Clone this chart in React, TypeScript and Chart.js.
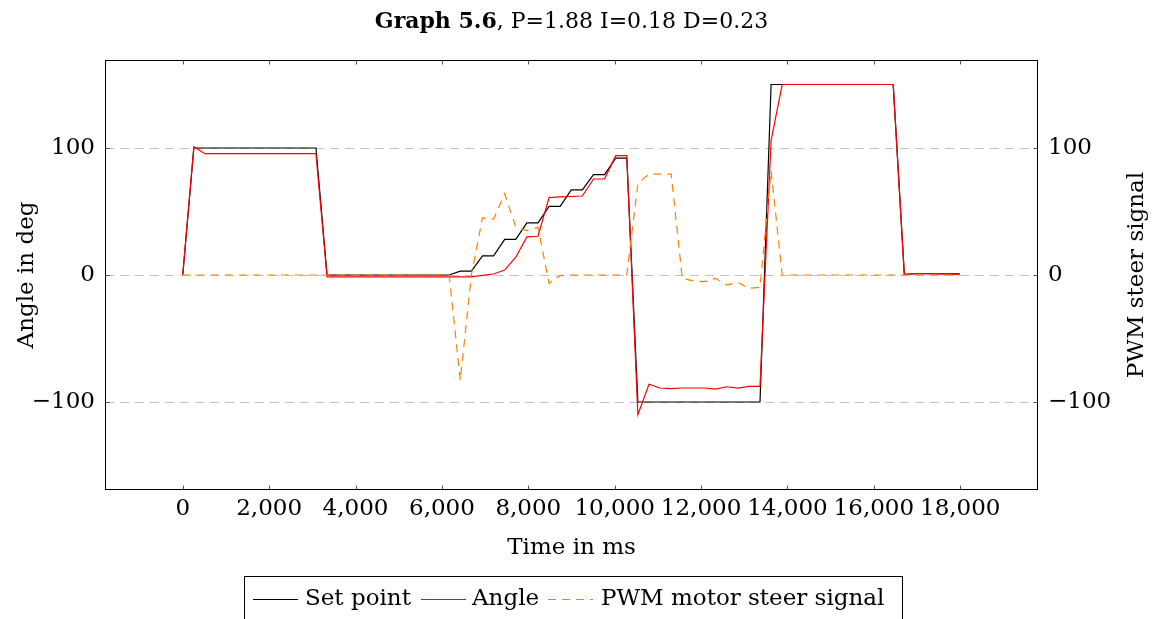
import { useEffect, useRef } from 'react';
import { Chart, registerables } from 'chart.js';

Chart.register(...registerables);

// ---- data ----
const timeMs = [
  0, 257, 514, 771, 1028, 1285, 1542, 1799, 2056, 2313, 2570, 2827, 3084, 3341, 3598, 3855,
  4112, 4369, 4626, 4883, 5140, 5397, 5654, 5911, 6168, 6425, 6682, 6939, 7196, 7453, 7710,
  7967, 8224, 8481, 8738, 8995, 9252, 9509, 9766, 10023, 10280, 10537, 10794, 11051, 11308,
  11565, 11822, 12079, 12336, 12593, 12850, 13107, 13364, 13621, 13878, 14135, 14392, 14649,
  14906, 15163, 15420, 15677, 15934, 16191, 16448, 16705, 16962, 17219, 17476, 17733, 17990,
];

const setPoint = [
  0,
  100, 100, 100, 100, 100, 100, 100, 100, 100, 100, 100, 100,
  0, 0, 0, 0, 0, 0, 0, 0, 0, 0, 0, 0,
  3, 3, 15, 15, 28, 28, 41, 41, 54, 54, 67, 67, 79, 79, 92, 92,
  -100, -100, -100, -100, -100, -100, -100, -100, -100, -100, -100, -100,
  150, 150, 150, 150, 150, 150, 150, 150, 150, 150, 150, 150,
  0.5, 1, 1, 1, 1, 1,
];

const angle = [
  0, 101,
  95.5, 95.5, 95.5, 95.5, 95.5, 95.5, 95.5, 95.5, 95.5, 95.5, 95.5,
  -1.5, -1.5, -1.5, -1.5, -1.5, -1.5, -1.5, -1.5, -1.5, -1.5, -1.5, -1.5, -1.5, -1.5,
  -0.3, 0.8, 3.9, 14, 30, 30.5, 61, 61.5, 61.8, 62.2, 75.6, 75.6, 94, 94,
  -110, -86, -89, -89.5, -89, -89, -89, -89.8, -88, -89, -87.7, -87.7,
  106,
  150, 150, 150, 150, 150, 150, 150, 150, 150, 150, 150,
  0.5, 1, 1, 0.8, 0.6, 0.5,
];

const pwm = [
  0, 0, 0, 0, 0, 0, 0, 0, 0, 0, 0, 0, 0, 0, 0, 0, 0, 0, 0, 0, 0, 0, 0, 0,
  0, -83, 0, 45, 44, 64, 38, 35, 37.5, -6.6, -0.5,
  0, 0, 0, 0, 0, 0,
  72, 79.5, 79.5, 79.5, -2.6, -4.7, -5.2, -2.6, -7.9, -5.8, -10.5, -9.7, 82,
  0, 0, 0, 0, 0, 0, 0, 0, 0, 0, 0, 0, 0, 0, 0, 0, 0,
];

const xTicks = [0, 2000, 4000, 6000, 8000, 10000, 12000, 14000, 16000, 18000];
const yTicks = [-100, 0, 100];
const y1Ticks = [-100, 0, 100];

const titleBold = 'Graph 5.6';
const titleRest = ', P=1.88 I=0.18 D=0.23';
const xTitle = 'Time in ms';
const yTitle = 'Angle in deg';
const y1Title = 'PWM steer signal';
const seriesNames = ['Set point', 'Angle', 'PWM motor steer signal'];

// ---- styles ----
const FAMILY = '"DejaVu Serif", serif';
const SIZE = 23;
const FONT = `${SIZE}px ${FAMILY}`;
const TITLE_SIZE = 22;
const BLACK = '#000000';
const RED = '#ff0000';
const ORANGE = 'rgb(255,128,0)';
const PWM_DASH = [8, 6];

// legend layout (pixel positions of line starts / text starts)
const LEGEND_BOX = { left: 244, right: 902, top: 576 };
const LEGEND_LINES = [253, 421, 548];
const LEGEND_TEXTS = [305, 472, 601];
const LEGEND_LINE_LEN = 45;

const fmtTick = (v: number) => {
  const s = Math.abs(v).toLocaleString('en-US');
  return v < 0 ? '\u2212' + s : s;
};

const decorPlugin = {
  id: 'decor',
  beforeDatasetsDraw(chart: any) {
    const { ctx, chartArea: a, scales } = chart;
    ctx.save();
    ctx.strokeStyle = '#c2c2c2';
    ctx.lineWidth = 1;
    ctx.setLineDash([9, 6]);
    yTicks.forEach((v) => {
      const y = Math.round(scales.y.getPixelForValue(v)) + 0.5;
      ctx.beginPath();
      ctx.moveTo(a.left, y);
      ctx.lineTo(a.right, y);
      ctx.stroke();
    });
    ctx.restore();
  },
  afterDraw(chart: any) {
    const { ctx, chartArea: a, scales } = chart;
    ctx.save();
    // frame
    ctx.strokeStyle = '#000';
    ctx.lineWidth = 1;
    ctx.setLineDash([]);
    const L = Math.round(a.left) + 0.5;
    const R = Math.round(a.right) - 0.5;
    const T = Math.round(a.top) + 0.5;
    const B = Math.round(a.bottom) - 0.5;
    ctx.strokeRect(L, T, R - L, B - T);
    // inward tick marks
    ctx.strokeStyle = '#555';
    const tl = 4;
    xTicks.forEach((v) => {
      const x = Math.round(scales.x.getPixelForValue(v)) + 0.5;
      ctx.beginPath();
      ctx.moveTo(x, B);
      ctx.lineTo(x, B - tl);
      ctx.moveTo(x, T);
      ctx.lineTo(x, T + tl);
      ctx.stroke();
    });
    yTicks.forEach((v) => {
      const y = Math.round(scales.y.getPixelForValue(v)) + 0.5;
      ctx.beginPath();
      ctx.moveTo(L, y);
      ctx.lineTo(L + tl, y);
      ctx.stroke();
    });
    y1Ticks.forEach((v) => {
      const y = Math.round(scales.y1.getPixelForValue(v)) + 0.5;
      ctx.beginPath();
      ctx.moveTo(R, y);
      ctx.lineTo(R - tl, y);
      ctx.stroke();
    });

    ctx.fillStyle = '#000';
    ctx.textBaseline = 'middle';
    const cx = (a.left + a.right) / 2;

    // title (bold + normal)
    ctx.font = `bold ${TITLE_SIZE}px ${FAMILY}`;
    const wb = ctx.measureText(titleBold).width;
    ctx.font = `${TITLE_SIZE}px ${FAMILY}`;
    const wr = ctx.measureText(titleRest).width;
    const tx = cx - (wb + wr) / 2;
    ctx.textAlign = 'left';
    ctx.font = `bold ${TITLE_SIZE}px ${FAMILY}`;
    ctx.fillText(titleBold, tx, 22);
    ctx.font = `${TITLE_SIZE}px ${FAMILY}`;
    ctx.fillText(titleRest, tx + wb, 22);

    // x title
    ctx.font = FONT;
    ctx.textAlign = 'center';
    ctx.fillText(xTitle, cx, 548);

    // y titles (both read bottom-to-top)
    const cy = (a.top + a.bottom) / 2;
    ctx.save();
    ctx.translate(27, cy);
    ctx.rotate(-Math.PI / 2);
    ctx.fillText(yTitle, 0, 0);
    ctx.restore();
    ctx.save();
    ctx.translate(1137, cy);
    ctx.rotate(-Math.PI / 2);
    ctx.fillText(y1Title, 0, 0);
    ctx.restore();

    // legend
    const ly = 599;
    ctx.strokeStyle = '#000';
    ctx.lineWidth = 1;
    ctx.setLineDash([]);
    ctx.strokeRect(
      LEGEND_BOX.left + 0.5,
      LEGEND_BOX.top + 0.5,
      LEGEND_BOX.right - LEGEND_BOX.left,
      60,
    );
    const colors = [BLACK, RED, ORANGE];
    const dashes = [[], [], PWM_DASH];
    ctx.textAlign = 'left';
    seriesNames.forEach((n, i) => {
      const x0 = LEGEND_LINES[i];
      ctx.strokeStyle = colors[i];
      ctx.lineWidth = 1.2;
      ctx.setLineDash(dashes[i]);
      ctx.beginPath();
      ctx.moveTo(x0, ly + 0.5);
      ctx.lineTo(x0 + LEGEND_LINE_LEN, ly + 0.5);
      ctx.stroke();
      ctx.fillStyle = '#000';
      ctx.fillText(n, LEGEND_TEXTS[i], ly);
    });
    ctx.restore();
  },
};

export default function App() {
  const ref = useRef<HTMLCanvasElement | null>(null);

  useEffect(() => {
    const canvas = ref.current;
    if (!canvas) return;
    const toPts = (ys: number[]) => ys.map((y, i) => ({ x: timeMs[i], y }));
    const tickFont = { family: FAMILY, size: SIZE };
    const chart = new Chart(canvas, {
      type: 'line',
      data: {
        datasets: [
          {
            label: seriesNames[0],
            data: toPts(setPoint),
            borderColor: BLACK,
            borderWidth: 1.2,
            pointRadius: 0,
            tension: 0,
            yAxisID: 'y',
            order: 2,
          },
          {
            label: seriesNames[1],
            data: toPts(angle),
            borderColor: RED,
            borderWidth: 1.2,
            pointRadius: 0,
            tension: 0,
            yAxisID: 'y',
            order: 1,
          },
          {
            label: seriesNames[2],
            data: toPts(pwm),
            borderColor: ORANGE,
            borderWidth: 1.2,
            borderDash: PWM_DASH,
            pointRadius: 0,
            tension: 0,
            yAxisID: 'y1',
            order: 0,
          },
        ],
      },
      options: {
        responsive: false,
        animation: false,
        devicePixelRatio: 1,
        layout: { padding: { top: 60, bottom: 59, left: 0, right: 0 } },
        plugins: {
          legend: { display: false },
          title: { display: false },
          tooltip: { enabled: false },
        },
        scales: {
          x: {
            type: 'linear',
            min: -1800,
            max: 19800,
            grid: { display: false, drawTicks: false },
            border: { display: false },
            afterBuildTicks: (s: any) => {
              s.ticks = xTicks.map((v) => ({ value: v }));
            },
            afterFit: (s: any) => {
              s.height = 70;
            },
            ticks: {
              font: tickFont,
              color: '#000',
              padding: 5,
              maxRotation: 0,
              autoSkip: false,
              callback: (v: any) => fmtTick(Number(v)),
            },
          },
          y: {
            type: 'linear',
            position: 'left',
            min: -169.3,
            max: 169.3,
            grid: { display: false, drawTicks: false },
            border: { display: false },
            afterBuildTicks: (s: any) => {
              s.ticks = yTicks.map((v) => ({ value: v }));
            },
            afterFit: (s: any) => {
              s.width = 105;
            },
            ticks: {
              font: tickFont,
              color: '#000',
              padding: 10,
              autoSkip: false,
              callback: (v: any) => fmtTick(Number(v)),
            },
          },
          y1: {
            type: 'linear',
            position: 'right',
            min: -169.3,
            max: 169.3,
            grid: { display: false, drawTicks: false },
            border: { display: false },
            afterBuildTicks: (s: any) => {
              s.ticks = y1Ticks.map((v) => ({ value: v }));
            },
            afterFit: (s: any) => {
              s.width = 121;
            },
            ticks: {
              font: tickFont,
              color: '#000',
              padding: 10,
              autoSkip: false,
              callback: (v: any) => fmtTick(Number(v)),
            },
          },
        },
      },
      plugins: [decorPlugin],
    } as any);
    return () => chart.destroy();
  }, []);

  return (
    <div style={{ position: 'absolute', left: 0, top: 0, width: 1159, height: 619, background: '#fff' }}>
      <canvas ref={ref} width={1159} height={619} style={{ display: 'block', width: 1159, height: 619 }} />
    </div>
  );
}
